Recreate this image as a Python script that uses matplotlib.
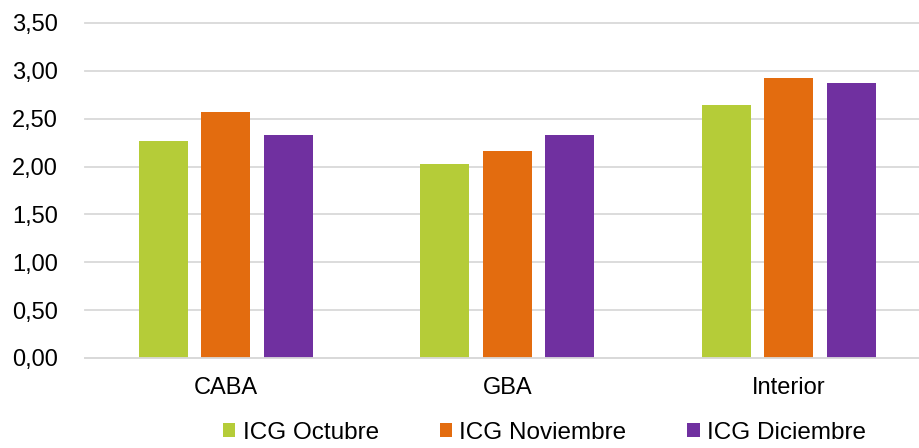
import numpy as np
import matplotlib
matplotlib.use("Agg")
import matplotlib.pyplot as plt
from matplotlib.ticker import FuncFormatter

plt.rcParams['font.family'] = ['Liberation Sans', 'DejaVu Sans']

# Datos
regiones = ["CABA", "GBA", "Interior"]
series = ["ICG Octubre", "ICG Noviembre", "ICG Diciembre"]
octubre = [2.27, 2.03, 2.64]
noviembre = [2.57, 2.16, 2.93]
diciembre = [2.33, 2.33, 2.87]
colores = ["#B5CC38", "#E36C0F", "#7030A0"]

valores = [octubre, noviembre, diciembre]

fig = plt.figure(figsize=(9.19, 4.48), dpi=100)
ax = fig.add_axes([0.0925, 0.2009, 0.9075, 0.7478])

x = np.arange(len(regiones))
ancho = 0.174
paso = 0.222
for i, (serie, vals, col) in enumerate(zip(series, valores, colores)):
    ax.bar(x + (i - 1) * paso, vals, width=ancho, color=col, label=serie,
           zorder=3)

ax.set_ylim(0, 3.5)
ax.set_xlim(-0.5, 2.463)
ax.set_yticks(np.arange(0, 3.51, 0.5))
ax.yaxis.set_major_formatter(FuncFormatter(lambda v, p: f"{v:.2f}".replace(".", ",")))
ax.set_xticks(x)
ax.set_xticklabels(regiones)
ax.grid(axis="y", color="#D9D9D9", linewidth=1.3, zorder=0)
for gl in ax.get_ygridlines():
    gl.set_clip_on(False)
ax.tick_params(axis="both", length=0, labelsize=17, colors="black")
ax.tick_params(axis="y", pad=19.5)
ax.tick_params(axis="x", pad=14)
for s in ["top", "right", "left"]:
    ax.spines[s].set_visible(False)
ax.spines["bottom"].set_color("#D9D9D9")
ax.spines["bottom"].set_linewidth(1.3)
ax.spines["bottom"].set_zorder(4)

fig.legend(loc="center", bbox_to_anchor=(0.5925, 0.034), ncol=3, frameon=False,
           fontsize=17.5, handlelength=0.5, handleheight=0.5, handletextpad=0.32,
           columnspacing=2.5, borderaxespad=0, borderpad=0)

fig.savefig("out.png", dpi=100)
